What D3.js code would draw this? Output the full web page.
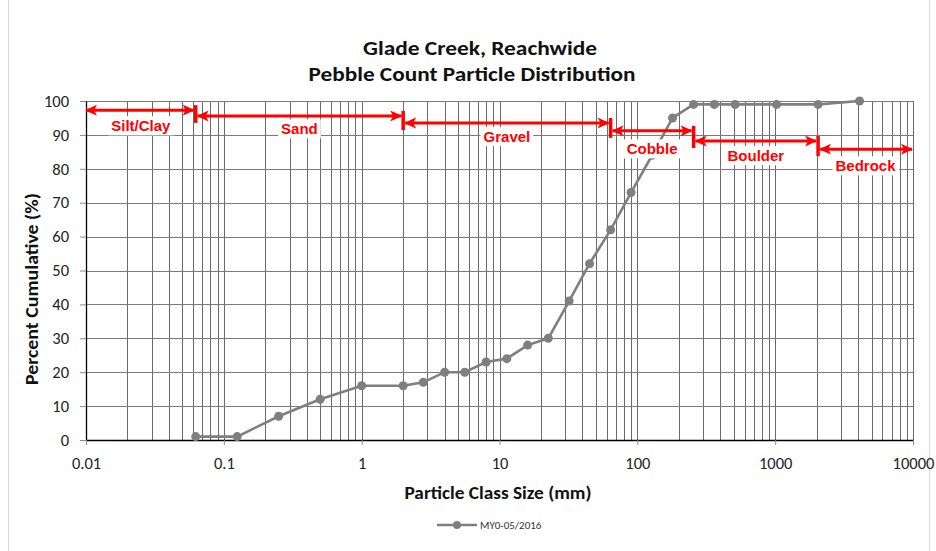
<!DOCTYPE html>
<html>
<head>
<meta charset="utf-8">
<script src="https://cdn.jsdelivr.net/npm/d3@7"></script>
<style>
  body { margin: 0; background: #fff; }
  svg { display: block; }
  text { font-family: Calibri, Carlito, Lato, "Noto Sans", sans-serif; }
</style>
</head>
<body>
<svg id="chart"></svg>
<script>
var width = 936;
var height = 551;

// particle sizes (mm) and cumulative percent finer
var sizes = [0.0625, 0.125, 0.25, 0.5, 1, 2, 2.8, 4, 5.6, 8, 11.3, 16, 22.6, 32, 45, 64, 90, 128, 180, 256, 362, 512, 1024, 2048, 4096];
var cumulative = [1, 1, 7, 12, 16, 16, 17, 20, 20, 23, 24, 28, 30, 41, 52, 62, 73, 84, 95, 99, 99, 99, 99, 99, 100];

// size classes and their bounds (mm)
var classNames = ['Silt/Clay', 'Sand', 'Gravel', 'Cobble', 'Boulder', 'Bedrock'];
var classBounds = [0.01, 0.0625, 2, 64, 256, 2048, 10000];

var xTicks = [0.01, 0.1, 1, 10, 100, 1000, 10000];
var yTicks = [0, 10, 20, 30, 40, 50, 60, 70, 80, 90, 100];
var seriesName = 'MY0-05/2016';

// annotation levels (percent) for the class arrows and their labels
var arrowLevels = [97.3, 95.6, 93.5, 91.2, 88.2, 85.8];
var labelLevels = [92.6, 91.7, 89.4, 85.8, 83.8, 80.8];

var svg = d3.select('#chart')
    .attr('width', width)
    .attr('height', height);

// outer chart border
svg.append('rect')
    .attr('x', 8.5).attr('y', -2)
    .attr('width', 921).attr('height', height + 10)
    .attr('fill', 'none')
    .attr('stroke', '#d9d9d9');

// Scales
var xScale = d3.scaleLog()
    .domain([0.01, 10000])
    .range([86, 913]);

var yScale = d3.scaleLinear()
    .domain([0, 100])
    .range([440, 101]);

// Gridlines
var minorVals = [];
for (var k = -2; k <= 3; k++) {
    for (var m = 1; m <= 9; m++) minorVals.push(m * Math.pow(10, k));
}
minorVals.push(10000);

svg.append('g')
    .selectAll('line')
    .data(minorVals)
    .enter()
    .append('line')
        .attr('x1', d => Math.round(xScale(d)) + 0.5)
        .attr('x2', d => Math.round(xScale(d)) + 0.5)
        .attr('y1', yScale(100))
        .attr('y2', yScale(0))
        .attr('stroke', '#6a6a6a')
        .attr('stroke-width', 1);

svg.append('g')
    .selectAll('line')
    .data(yTicks.slice(1))
    .enter()
    .append('line')
        .attr('x1', xScale(0.01))
        .attr('x2', xScale(10000))
        .attr('y1', d => Math.round(yScale(d)) + 0.5)
        .attr('y2', d => Math.round(yScale(d)) + 0.5)
        .attr('stroke', '#7a7a7a')
        .attr('stroke-width', 1);

// Axes
var yAxis = d3.axisLeft(yScale)
    .tickValues(yTicks)
    .tickSize(6)
    .tickPadding(11)
    .tickSizeOuter(0);

var xAxis = d3.axisBottom(xScale)
    .tickValues(xTicks)
    .tickFormat(d => d >= 10000 ? '10000' : d3.format('~g')(d))
    .tickSize(5)
    .tickPadding(12)
    .tickSizeOuter(0);

var gy = svg.append('g')
    .attr('transform', 'translate(' + xScale(0.01) + ',0)')
    .call(yAxis);

var gx = svg.append('g')
    .attr('transform', 'translate(0,' + yScale(0) + ')')
    .call(xAxis);

gy.select('.domain').attr('stroke', '#000').attr('stroke-width', 1.3);
gx.select('.domain').attr('stroke', '#000').attr('stroke-width', 1.3);
gy.selectAll('.tick line').attr('stroke', '#8a8a8a');
gx.selectAll('.tick line').attr('stroke', '#8a8a8a');
svg.selectAll('.tick text')
    .style('font-family', 'Calibri, Carlito, Lato, "Noto Sans", sans-serif')
    .style('font-size', '16.5px')
    .attr('fill', '#222');

// Data line and points
var line = d3.line()
    .x((d, i) => xScale(sizes[i]))
    .y(d => yScale(d));

svg.append('path')
    .datum(cumulative)
    .attr('d', line)
    .attr('fill', 'none')
    .attr('stroke', '#7f7f7f')
    .attr('stroke-width', 2.6);

svg.append('g')
    .selectAll('circle')
    .data(cumulative)
    .enter()
    .append('circle')
        .attr('cx', (d, i) => xScale(sizes[i]))
        .attr('cy', d => yScale(d))
        .attr('r', 4.5)
        .attr('fill', '#7f7f7f');

// Size-class arrows
var defs = svg.append('defs');
defs.append('marker')
    .attr('id', 'head')
    .attr('viewBox', '0 -6 12 12')
    .attr('refX', 11)
    .attr('refY', 0)
    .attr('markerWidth', 12)
    .attr('markerHeight', 12)
    .attr('markerUnits', 'userSpaceOnUse')
    .attr('orient', 'auto-start-reverse')
    .append('path')
        .attr('d', 'M0,-5.5 L12,0 L0,5.5 L3,0 Z')
        .attr('fill', '#ff0000');

var classes = classNames.map((name, i) => ({
    name: name,
    lo: classBounds[i],
    hi: classBounds[i + 1],
    level: arrowLevels[i],
    labelLevel: labelLevels[i]
}));

var cg = svg.append('g');

cg.selectAll('line.arrow')
    .data(classes)
    .enter()
    .append('line')
        .attr('class', 'arrow')
        .attr('x1', (d, i) => xScale(d.lo) + (i === 0 ? 0 : 2))
        .attr('x2', (d, i) => xScale(d.hi) - (i === classes.length - 1 ? 1 : 2))
        .attr('y1', d => yScale(d.level))
        .attr('y2', d => yScale(d.level))
        .attr('stroke', '#ff0000')
        .attr('stroke-width', 3)
        .attr('marker-start', 'url(#head)')
        .attr('marker-end', 'url(#head)');

// boundary bars between classes
cg.selectAll('line.bar')
    .data(classes.slice(1))
    .enter()
    .append('line')
        .attr('class', 'bar')
        .attr('x1', d => xScale(d.lo))
        .attr('x2', d => xScale(d.lo))
        .attr('y1', (d, i) => yScale(classes[i].level) - 5)
        .attr('y2', d => yScale(d.level) + 7)
        .attr('stroke', '#ff0000')
        .attr('stroke-width', 3.5);

// labels with white boxes
var labels = cg.selectAll('g.lab')
    .data(classes)
    .enter()
    .append('g')
        .attr('class', 'lab')
        .attr('transform', d => 'translate(' + xScale(Math.sqrt(d.lo * d.hi)) + ',' + yScale(d.labelLevel) + ')');

labels.append('text')
    .attr('text-anchor', 'middle')
    .attr('dy', '0.35em')
    .style('font-family', '"Liberation Sans", Arial, sans-serif')
    .style('font-weight', 'bold')
    .style('font-size', '15px')
    .attr('fill', '#ff0000')
    .text(d => d.name);

labels.each(function () {
    var g = d3.select(this);
    var bb = g.select('text').node().getBBox();
    g.insert('rect', 'text')
        .attr('x', bb.x - 3)
        .attr('y', bb.y - 1)
        .attr('width', bb.width + 6)
        .attr('height', bb.height + 2)
        .attr('fill', '#fff');
});

// Titles
svg.append('text')
    .attr('x', 480)
    .attr('y', 55)
    .attr('textLength', 234)
    .attr('lengthAdjust', 'spacingAndGlyphs')
    .style('text-anchor', 'middle')
    .style('font-size', '21px')
    .style('font-weight', 'bold')
    .attr('fill', '#111')
    .text('Glade Creek, Reachwide');

svg.append('text')
    .attr('x', 472)
    .attr('y', 81)
    .attr('textLength', 327)
    .attr('lengthAdjust', 'spacingAndGlyphs')
    .style('text-anchor', 'middle')
    .style('font-size', '21px')
    .style('font-weight', 'bold')
    .attr('fill', '#111')
    .text('Pebble Count Particle Distribution');

svg.append('text')
    .attr('x', 498)
    .attr('y', 499)
    .attr('textLength', 187)
    .attr('lengthAdjust', 'spacingAndGlyphs')
    .style('text-anchor', 'middle')
    .style('font-size', '17px')
    .style('font-weight', 'bold')
    .attr('fill', '#111')
    .text('Particle Class Size (mm)');

svg.append('text')
    .attr('transform', 'rotate(-90)')
    .attr('x', -289)
    .attr('y', 38)
    .attr('textLength', 192)
    .attr('lengthAdjust', 'spacingAndGlyphs')
    .style('text-anchor', 'middle')
    .style('font-size', '17px')
    .style('font-weight', 'bold')
    .attr('fill', '#111')
    .text('Percent Cumulative (%)');

// Legend
var lg = svg.append('g').attr('transform', 'translate(437,525)');
lg.append('line')
    .attr('x1', 0).attr('x2', 40)
    .attr('stroke', '#7f7f7f')
    .attr('stroke-width', 2.6);
lg.append('circle')
    .attr('cx', 20).attr('r', 4)
    .attr('fill', '#7f7f7f');
lg.append('text')
    .attr('x', 43)
    .attr('dy', '0.35em')
    .style('font-size', '11px')
    .attr('fill', '#333')
    .text(seriesName);
</script>
</body>
</html>
